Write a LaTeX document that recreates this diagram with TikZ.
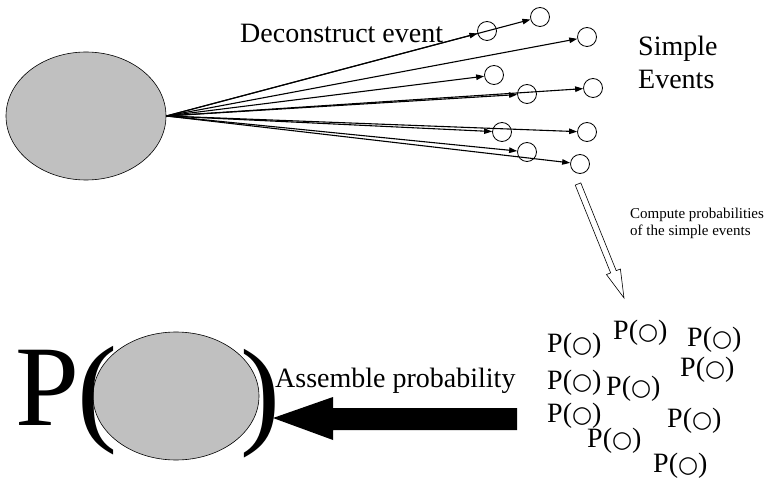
\documentclass[tikz,border=0pt]{standalone}
\usepackage{fontspec}
\setmainfont{Liberation Serif}
\newfontfamily\dv{DejaVu Sans}
\usetikzlibrary{shapes.geometric,arrows.meta,calc}
\definecolor{ovalgray}{HTML}{C0C0C0}
\newcommand\circglyph{{\dv\fontsize{23}{23}\selectfont ○}}
\begin{document}
\begin{tikzpicture}[x=1pt,y=-1pt,
  oval/.style={ellipse,draw=black,line width=0.6pt,fill=ovalgray,inner sep=0pt},
  sev/.style={circle,draw=black,line width=0.8pt,minimum size=19pt,inner sep=0pt},
  fanarrow/.style={line width=1.1pt,-{Triangle[length=8pt,width=5.5pt]}},
  lbl/.style={anchor=base west,inner sep=0pt,font=\fontsize{28}{33}\selectfont},
  small/.style={anchor=base west,inner sep=0pt,font=\fontsize{15}{17}\selectfont,align=left},
  pe/.style={anchor=base west,inner sep=0pt,font=\fontsize{28}{30}\selectfont}]
\useasboundingbox (0,0) rectangle (768,478);
% top event
\node[oval,minimum width=160pt,minimum height=128pt] (E1) at (86,116) {};
% simple events
\node[sev] (c1) at (487,31) {};
\node[sev] (c2) at (540,17) {};
\node[sev] (c3) at (587,37) {};
\node[sev] (c4) at (494,75) {};
\node[sev] (c5) at (527,94) {};
\node[sev] (c6) at (593,88) {};
\node[sev] (c7) at (502,132) {};
\node[sev] (c8) at (587,132) {};
\node[sev] (c9) at (527,152) {};
\node[sev] (c10) at (580,164) {};
\foreach \c in {c1,c2,c3,c4,c5,c6,c7,c8,c9,c10}
  \draw[fanarrow] (E1.east) -- (\c);
\node[lbl] (dec) at (240,43) {Deconstruct event};
\node[lbl,align=left] (simp) at (638,89) {Simple\\Events};
% hollow arrow
\coordinate (ht) at (578,184);
\coordinate (hp) at (624,298);
\coordinate (hb) at ($(ht)!0.77!(hp)$);
\draw[line width=0.6pt,fill=white]
  ($(ht)!3pt!90:(hp)$) -- ($(hb)!3pt!-90:(ht)$) -- ($(hb)!7.5pt!-90:(ht)$) -- (hp)
  -- ($(hb)!7.5pt!90:(ht)$) -- ($(hb)!3pt!90:(ht)$) -- ($(ht)!3pt!-90:(hp)$) -- cycle;
\node[small] (comp) at (630,236) {Compute probabilities\\of the simple events};
% probabilities of simple events
\node[pe] (p1) at (547,352) {P(\circglyph)};
\node[pe] (p2) at (613,339) {P(\circglyph)};
\node[pe] (p3) at (687,346) {P(\circglyph)};
\node[pe] (p4) at (680,376) {P(\circglyph)};
\node[pe] (p5) at (547,389) {P(\circglyph)};
\node[pe] (p6) at (606,395) {P(\circglyph)};
\node[pe] (p7) at (547,422) {P(\circglyph)};
\node[pe] (p8) at (587,447) {P(\circglyph)};
\node[pe] (p9) at (667,427) {P(\circglyph)};
\node[pe] (p10) at (653,472) {P(\circglyph)};
% assembled event
\node[oval,minimum width=166pt,minimum height=128pt] (E2) at (176,396) {};
\node[anchor=base west,inner sep=0pt,font=\fontsize{115}{115}\selectfont] (bigP) at (15,425) {P};
\node[anchor=base west,inner sep=0pt,font=\fontsize{120}{120}\selectfont] (lpar) at (77,429) {(};
\node[anchor=base west,inner sep=0pt,font=\fontsize{120}{120}\selectfont] (rpar) at (240,432) {)};
\node[lbl] (asm) at (275,387) {Assemble probability};
% big arrow
\coordinate (at) at (273,418);
\fill[black] (517,408) -- (333,408) -- (333,397) -- (at) -- (333,440) -- (333,430) -- (517,430) -- cycle;
\end{tikzpicture}
\end{document}
